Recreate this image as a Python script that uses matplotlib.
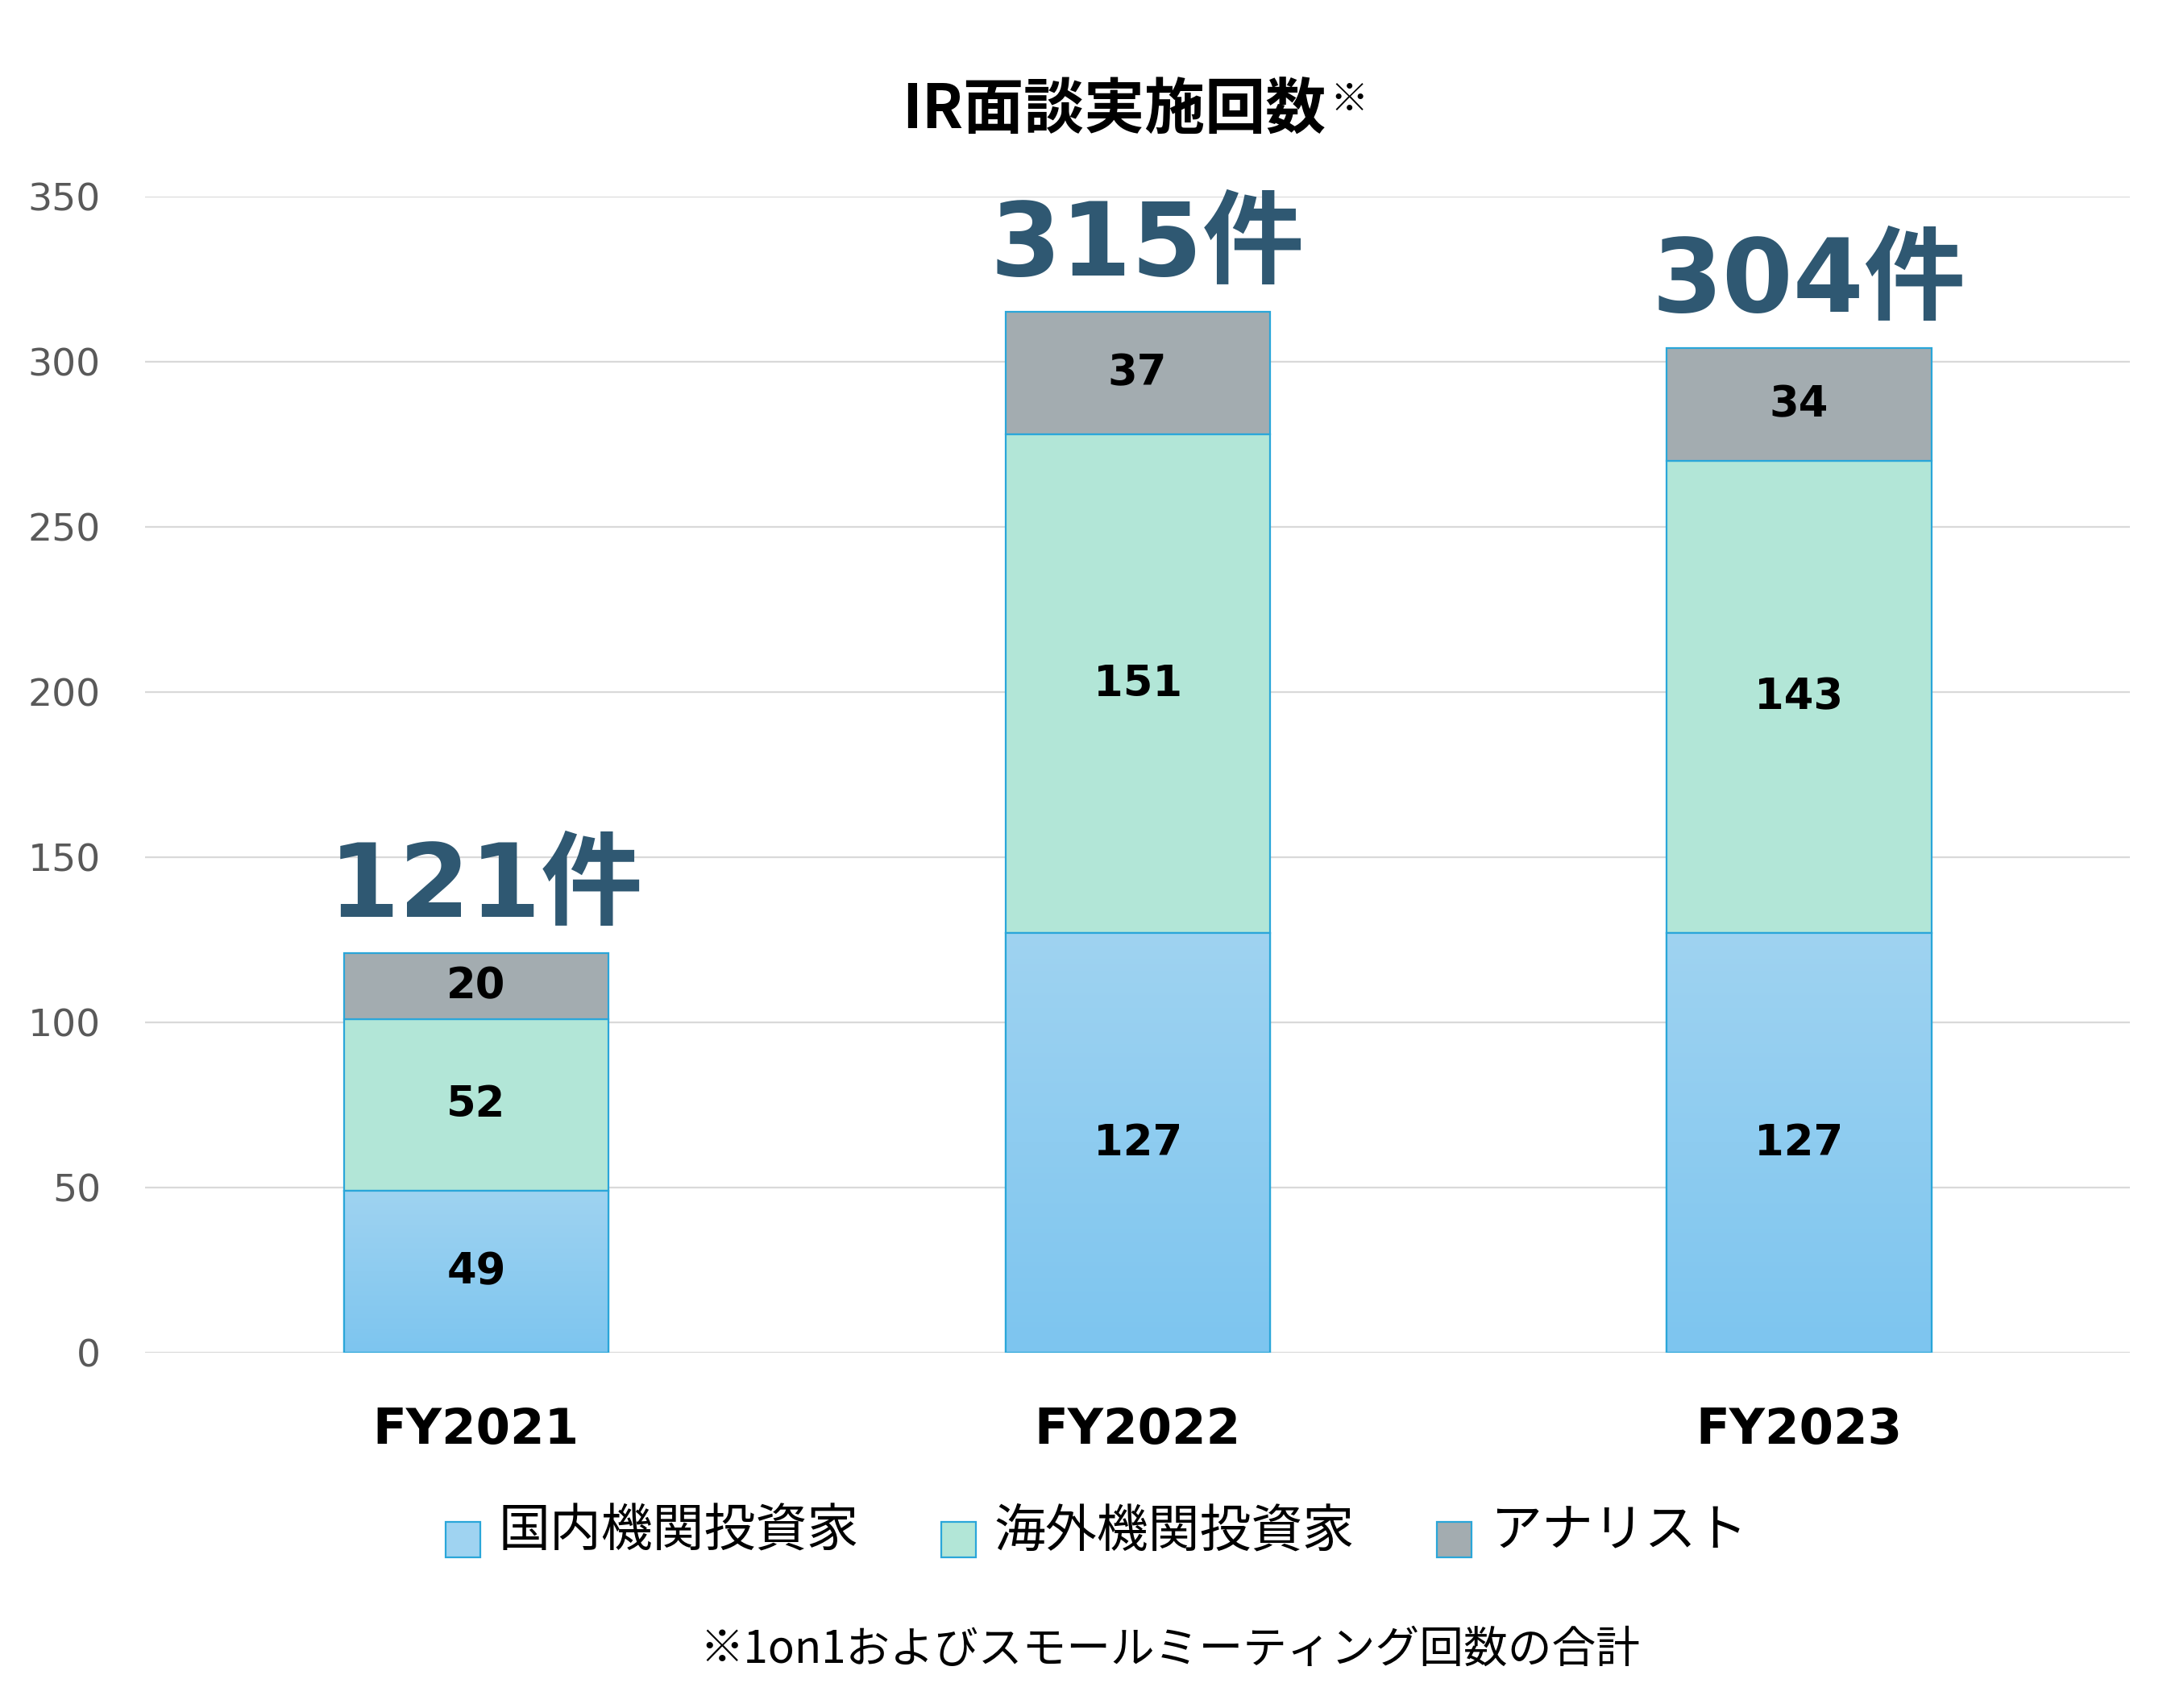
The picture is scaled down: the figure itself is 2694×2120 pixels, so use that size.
import numpy as np
import matplotlib
matplotlib.use('Agg')
import matplotlib.pyplot as plt
from matplotlib.patches import Patch, Rectangle
from matplotlib.legend_handler import HandlerPatch

years = ['FY2021', 'FY2022', 'FY2023']
domestic = [49, 127, 127]
overseas = [52, 151, 143]
analyst = [20, 37, 34]
series_names = ['国内機関投資家', '海外機関投資家', 'アナリスト']

title = 'IR面談実施回数'
note = '※1on1およびスモールミーティング回数の合計'

LATIN = ['DejaVu Sans', 'Noto Sans CJK JP']
CJK = ['Noto Sans CJK JP', 'DejaVu Sans']
plt.rcParams['font.family'] = LATIN

c_dom_top = np.array([0x9f, 0xd3, 0xf1]) / 255
c_dom_bot = np.array([0x7d, 0xc5, 0xef]) / 255
c_over = '#b2e6d7'
c_ana = '#a3acb0'
c_edge = '#2aa6d9'
c_total = '#2f5872'


def low_square(legend, orig_handle, xdescent, ydescent, width, height, fontsize):
    # square sits a bit lower than the text centre, like the original
    return Rectangle((-xdescent, -ydescent - 0.3 * height), width, height)


def main():
    fig = plt.figure(figsize=(13.47, 10.6), dpi=200)
    ax = fig.add_axes([0.067, 0.208, 0.914, 0.677])

    x = np.arange(len(years))
    w = 0.4
    dom = np.array(domestic)
    ovs = np.array(overseas)
    ana = np.array(analyst)

    bars_dom = ax.bar(x, dom, w, color=c_dom_bot, edgecolor=c_edge, linewidth=0.8, zorder=3)
    ax.bar(x, ovs, w, bottom=dom, color=c_over, edgecolor=c_edge, linewidth=0.8, zorder=3)
    ax.bar(x, ana, w, bottom=dom + ovs, color=c_ana, edgecolor=c_edge, linewidth=0.8, zorder=3)

    # gradient fill for the domestic bars
    grad = np.linspace(0, 1, 256)[:, None, None]
    img = c_dom_top * (1 - grad) + c_dom_bot * grad
    for b in bars_dom:
        x0, y0 = b.get_x(), b.get_y()
        im = ax.imshow(img, extent=[x0, x0 + b.get_width(), y0, y0 + b.get_height()],
                       aspect='auto', origin='upper', zorder=3.5, interpolation='bilinear')
        im.set_clip_path(b)
        ax.add_patch(Rectangle((x0, y0), b.get_width(), b.get_height(), fill=False,
                               edgecolor=c_edge, linewidth=0.8, zorder=4))

    # segment labels and totals
    for i in range(len(years)):
        ax.text(x[i], dom[i] / 2, str(dom[i]), ha='center', va='center',
                fontsize=19, fontweight='bold', zorder=5)
        ax.text(x[i], dom[i] + ovs[i] / 2, str(ovs[i]), ha='center', va='center',
                fontsize=19, fontweight='bold', zorder=5)
        ax.text(x[i], dom[i] + ovs[i] + ana[i] / 2, str(ana[i]), ha='center', va='center',
                fontsize=19, fontweight='bold', zorder=5)
        total = dom[i] + ovs[i] + ana[i]
        ax.text(x[i] + 0.015, total + 11, f'{total}件', ha='center', va='baseline',
                fontsize=45.5, fontweight='bold', color=c_total, family=LATIN, zorder=5)

    ax.set_xlim(-0.5, 2.5)
    ax.set_ylim(0, 350)
    ax.set_yticks(range(0, 351, 50))
    ax.grid(axis='y', color='#d9d9d9', linewidth=0.8, zorder=0)
    ax.set_axisbelow(True)
    for s in ax.spines.values():
        s.set_visible(False)
    ax.tick_params(axis='both', length=0)
    ax.tick_params(axis='y', labelsize=17, labelcolor='#595959', pad=20)
    ax.set_xticks(x)
    ax.set_xticklabels(years, fontsize=22, fontweight='bold')
    ax.tick_params(axis='x', pad=24)

    t = fig.text(0.513, 0.935, title, ha='center', va='center', fontsize=27,
                 fontweight='bold', family=CJK)
    fig.canvas.draw()
    bb = t.get_window_extent().transformed(fig.transFigure.inverted())
    fig.text(bb.x1 + 0.002, bb.y1, '※', ha='left', va='top', fontsize=17,
             fontweight='bold', family=CJK)

    handles = [
        Patch(facecolor=c_dom_top, edgecolor=c_edge, linewidth=0.8),
        Patch(facecolor=c_over, edgecolor=c_edge, linewidth=0.8),
        Patch(facecolor=c_ana, edgecolor=c_edge, linewidth=0.8),
    ]
    hmap = {h: HandlerPatch(patch_func=low_square) for h in handles}
    fig.legend(handles, series_names, loc='center', bbox_to_anchor=(0.505, 0.103), ncol=3,
               frameon=False, prop={'family': CJK, 'size': 23}, handlelength=0.68,
               handleheight=0.68, handletextpad=0.35, columnspacing=1.6, handler_map=hmap)

    fig.text(0.539, 0.034, note, ha='center', va='center', fontsize=19.7, family=CJK)

    fig.savefig('out.png', dpi=200)


if __name__ == '__main__':
    main()
